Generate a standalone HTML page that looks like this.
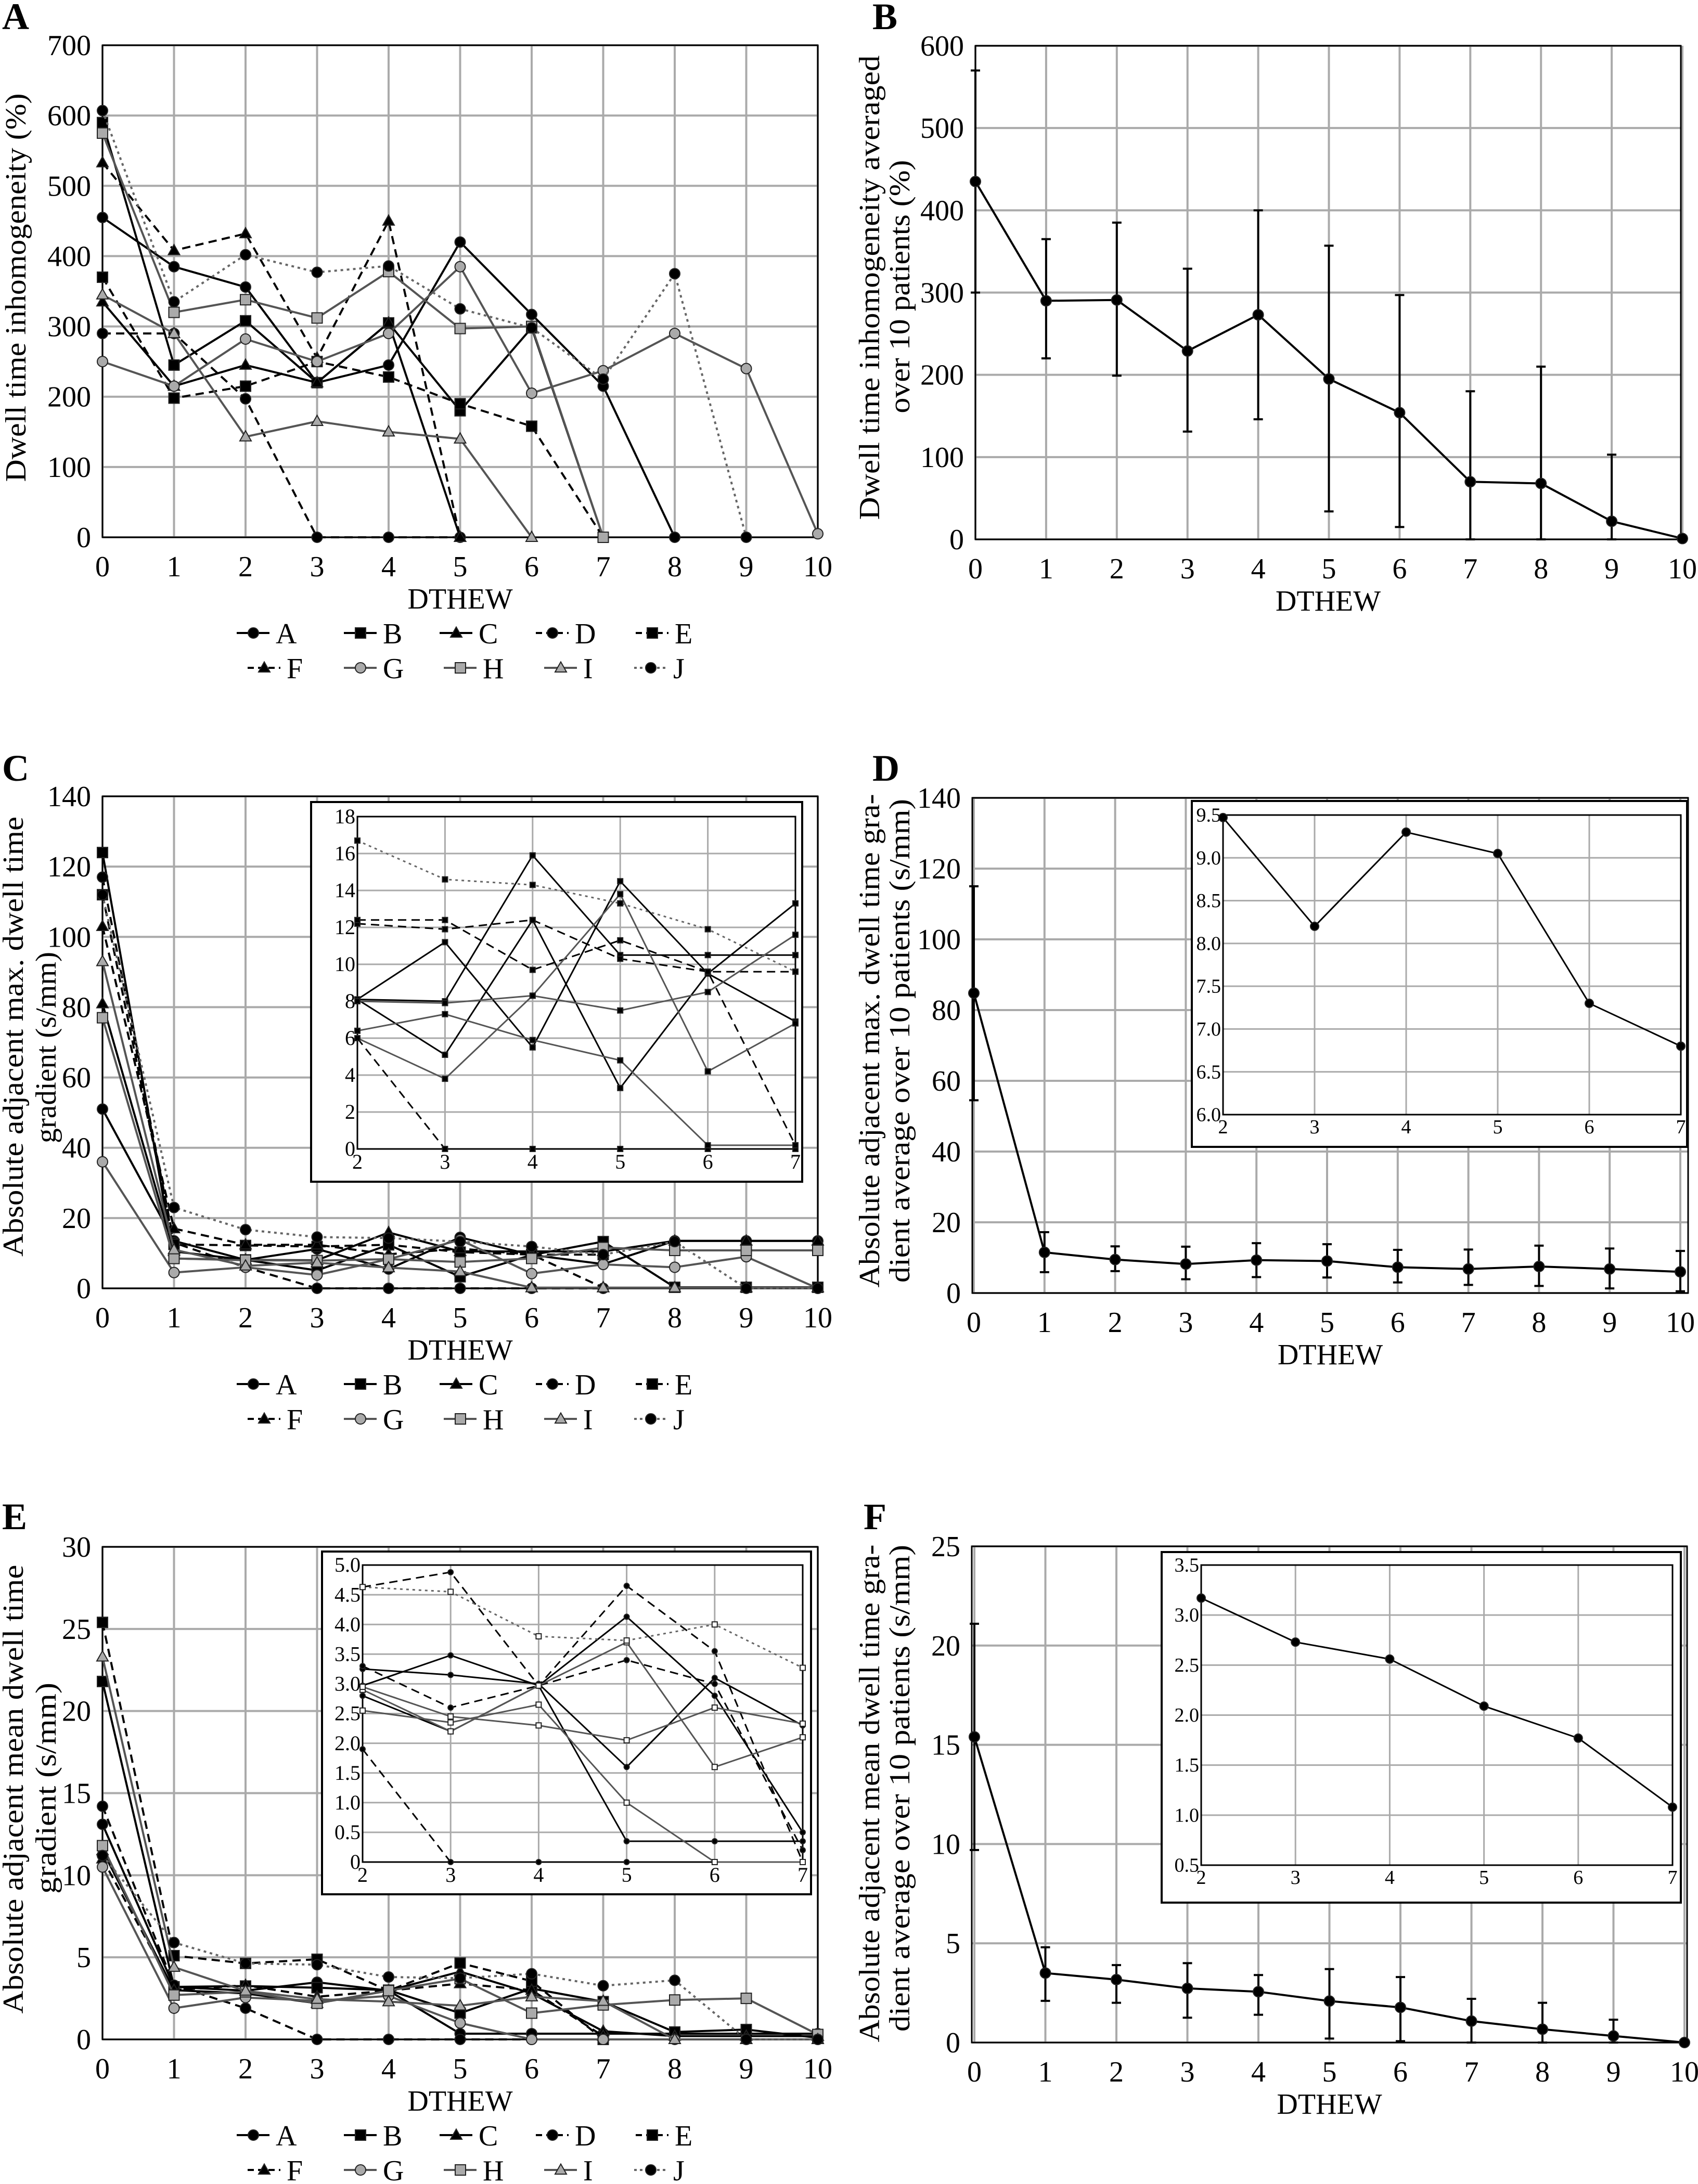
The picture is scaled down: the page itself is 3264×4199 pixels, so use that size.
<!DOCTYPE html>
<html><head><meta charset="utf-8"><title>Dwell time charts</title>
<style>html,body{margin:0;padding:0;background:#fff}svg{display:block;font-family:"Liberation Serif",serif}</style>
</head><body>
<svg id="chart" xmlns="http://www.w3.org/2000/svg" width="3264" height="4199" viewBox="0 0 3264 4199">
<rect x="0" y="0" width="3264" height="4199" fill="#fff"/>
</svg>
<script>
// ---------- data ----------
const cats=[0,1,2,3,4,5,6,7,8,9,10];
const seriesNames=["A","B","C","D","E","F","G","H","I","J"];
// Panel A: dwell time inhomogeneity (%)
const aA=[455,385,356,220,245,420,317,215,0];
const aB=[590,245,308,220,305,180,298,0];
const aC=[335,215,245,220,305,0];
const aD=[290,290,197,0,0,0];
const aE=[370,198,215,250,228,190,158,0];
const aF=[533,408,432,255,450,0];
const aG=[250,215,282,250,290,385,205,237,290,240,5];
const aH=[575,320,338,312,378,297,300,0];
const aI=[345,290,143,165,150,140,0];
const aJ=[607,335,402,377,386,325,298,225,375,0];
const aTicks=[0,100,200,300,400,500,600,700];
// Panel B: mean with error bars
const bMean=[435,290,291,229,273,195,154,70,68,22,1];
const bHi=[570,365,385,329,400,357,297,180,210,103,null];
const bLo=[300,220,199,131,146,34,15,0,0,0,null];
const bTicks=[0,100,200,300,400,500,600];
// Panel C: max gradient
const cA=[51,13.5,8.1,11.2,5.5,14.5,9.5,6.9,13.5,13.5,13.5];
const cB=[124,8.5,8.1,5.1,12.4,3.3,9.5,13.3,0.3,0.3,0.3];
const cC=[81,10.5,8.1,8.0,15.9,10.5,10.5,10.5,13.5,13.5,13.5];
const cD=[117,13,6.0,0,0,0,0,0];
const cE=[112,12.5,12.2,11.9,12.4,10.3,9.6,9.6];
const cF=[103,17,12.4,12.4,9.7,11.3,9.6,0.2];
const cG=[36,4.5,6.0,3.8,8.3,13.8,4.2,6.8,6,9,0];
const cH=[77,8.5,8.0,7.9,8.3,7.5,8.5,11.6,10.8,10.8,10.8];
const cI=[93,11,6.4,7.3,5.9,4.8,0.2,0.2,0.2,0.2,0.2];
const cJ=[112,23,16.7,14.6,14.3,13.3,11.9,9.6,13.3,0,0];
const cTicks=[0,20,40,60,80,100,120,140];
const cInsetTicks=[0,2,4,6,8,10,12,14,16,18];
// Panel D
const dMean=[84.8,11.5,9.47,8.2,9.3,9.05,7.3,6.8,7.5,6.8,6.0];
const dHi=[115,17.2,13.2,13.1,14.1,13.8,12.2,12.3,13.4,12.6,11.9];
const dLo=[54.5,5.9,6.2,3.9,4.5,4.4,3.0,2.3,2.0,1.3,0.5];
const dInsetTicks=[6.0,6.5,7.0,7.5,8.0,8.5,9.0,9.5];
// Panel E: mean gradient
const eA=[13.1,3.2,2.97,3.48,2.97,0.35,0.35,0.35,0.35,0.35,0.35];
const eB=[21.8,3.2,3.25,3.15,3.0,1.6,3.1,2.3,0.45,0.6,0.1];
const eC=[11.5,3.0,2.8,2.2,2.97,4.13,2.8,0.5,0.2,0.2,0.2];
const eD=[14.2,3.3,1.9,0,0,0,0];
const eE=[25.4,5.1,4.63,4.88,2.97,4.65,3.55,0];
const eF=[11.0,3.0,3.3,2.6,2.97,3.4,3.0,0.2];
const eG=[10.5,1.9,2.55,2.35,2.65,1.0,0,0,0,0,0];
const eH=[11.8,2.7,2.9,2.2,2.97,3.7,1.6,2.1,2.4,2.5,0.3];
const eI=[23.3,4.4,2.95,2.45,2.3,2.05,2.6,2.33,0,0,0];
const eJ=[11.2,5.9,4.63,4.55,3.8,3.73,4.0,3.27,3.6,0,0];
const eTicks=[0,5,10,15,20,25,30];
const eInsetTicks=[0,0.5,1.0,1.5,2.0,2.5,3.0,3.5,4.0,4.5,5.0];
// Panel F
const fMean=[15.4,3.5,3.17,2.73,2.56,2.09,1.77,1.08,0.67,0.33,0];
const fHi=[21.1,4.8,3.9,4.0,3.4,3.7,3.3,2.2,2.0,1.15,null];
const fLo=[9.7,2.1,2.0,1.25,1.4,0.2,0.07,0,0,0,null];
const fTicks=[0,5,10,15,20,25];
const fInsetTicks=[0.5,1.0,1.5,2.0,2.5,3.0,3.5];
const insetCats=[2,3,4,5,6,7];

// ---------- helpers ----------
const svg=document.getElementById('chart');
const NS='http://www.w3.org/2000/svg';
function mk(tag,attrs,name,parent){
  const el=document.createElementNS(NS,tag);
  for(const k in attrs) el.setAttribute(k,attrs[k]);
  
  
  (parent||svg).appendChild(el);
  return el;
}
function txt(x,y,s,size,anchor,name,extra){
  const t=mk('text',Object.assign({x:x,y:y,'font-size':size,'text-anchor':anchor||'middle',fill:'#000'},extra||{}),name);
  t.textContent=s;return t;
}
function scale(d0,d1,p0,p1){return v=>p0+(v-d0)/(d1-d0)*(p1-p0);}
const styles={
 A:{c:'#000',d:'',m:'circle',f:'#000'}, B:{c:'#000',d:'',m:'square',f:'#000'}, C:{c:'#000',d:'',m:'tri',f:'#000'},
 D:{c:'#000',d:'16,10',m:'circle',f:'#000'}, E:{c:'#000',d:'16,10',m:'square',f:'#000'}, F:{c:'#000',d:'16,10',m:'tri',f:'#000'},
 G:{c:'#555',d:'',m:'circle',f:'#aaa'}, H:{c:'#555',d:'',m:'square',f:'#aaa'}, I:{c:'#555',d:'',m:'tri',f:'#aaa'},
 J:{c:'#666',d:'5,7',m:'circle',f:'#000'}
};
function marker(kind,x,y,r,fill,name){
  if(kind==='circle') return mk('circle',{cx:x,cy:y,r:r,fill:fill,stroke:'#222','stroke-width':2},name);
  if(kind==='square') return mk('rect',{x:x-r,y:y-r,width:2*r,height:2*r,fill:fill,stroke:'#222','stroke-width':2},name);
  return mk('polygon',{points:`${x},${y-r*1.15} ${x-r*1.1},${y+r*0.8} ${x+r*1.1},${y+r*0.8}`,fill:fill,stroke:'#222','stroke-width':2},name);
}
function series(sx,sy,xs,vals,st,w,r,name){
  const pts=[];
  xs.forEach((x,i)=>{ if(vals[i]!=null && vals[i]!==undefined) pts.push([sx(x),sy(vals[i])]); });
  mk('polyline',{points:pts.map(p=>p.join(',')).join(' '),fill:'none',stroke:st.c,'stroke-width':w,'stroke-dasharray':st.d,'stroke-linejoin':'round'},name+'-line');
  pts.forEach(p=>marker(st.m,p[0],p[1],r,st.f,name+'-point'));
}
function frame(p,key){
  const sx=scale(0,10,p.xL,p.xR), sy=scale(p.ticks[0],p.ticks[p.ticks.length-1],p.B,p.T);
  cats.forEach(c=>{ mk('line',{x1:sx(c),x2:sx(c),y1:p.T,y2:p.B,stroke:'#aaa','stroke-width':4},key+'-x-gridline'); });
  p.ticks.forEach(t=>{ mk('line',{x1:p.L,x2:p.R,y1:sy(t),y2:sy(t),stroke:'#aaa','stroke-width':4},key+'-y-gridline');
    txt(p.L-22,sy(t)+19,String(t),56,'end',key+'-y-tick-label'); });
  mk('rect',{x:p.L,y:p.T,width:p.R-p.L,height:p.B-p.T,fill:'none',stroke:'#000','stroke-width':3},key+'-plot-frame');
  cats.forEach(c=>txt(sx(c),p.B+75,String(c),56,'middle',key+'-x-tick-label'));
  txt((p.L+p.R)/2,p.B+137,'DTHEW',56,'middle',key+'-x-axis-title');
  return {sx,sy};
}
function ytitle(x,cy,s,len,name){
  const t=mk('text',{x:0,y:0,'font-size':56,'text-anchor':'middle',textLength:len,lengthAdjust:'spacingAndGlyphs',transform:`translate(${x},${cy}) rotate(-90)`,fill:'#000'},name);
  t.textContent=s;
}
function legend(bottom,key){
  const row1=[455,661,845,1030,1222], row2=[476,661,853,1046,1219];
  seriesNames.forEach((n,i)=>{
    const x=i<5?row1[i]:row2[i-5], y=bottom+(i<5?184:251), st=styles[n];
    const g=mk('g',{},key+'-legend-entry-'+n.toLowerCase());
    mk('line',{x1:x,x2:x+63,y1:y,y2:y,stroke:st.c,'stroke-width':4,'stroke-dasharray':st.d?(st.d==='5,7'?'5,6':'12,8'):''},key+'-legend-swatch',g);
    marker(st.m,x+32,y,10,st.f,key+'-legend-marker');
    txt(x+75,y+20,n,56,'start',key+'-legend-label');
  });
}
function errorbars(sx,sy,hi,lo,key){
  cats.forEach((c,i)=>{ if(hi[i]==null) return; const x=sx(c);
    mk('line',{x1:x,x2:x,y1:sy(hi[i]),y2:sy(lo[i]),stroke:'#000','stroke-width':4},key+'-error-bar');
    mk('line',{x1:x-9,x2:x+9,y1:sy(hi[i]),y2:sy(hi[i]),stroke:'#000','stroke-width':4},key+'-error-cap');
    mk('line',{x1:x-9,x2:x+9,y1:sy(lo[i]),y2:sy(lo[i]),stroke:'#000','stroke-width':4},key+'-error-cap'); });
}
function inset(o,ticks,fmt,fs,key){
  mk('rect',{x:o.ox,y:o.oy,width:o.ow,height:o.oh,fill:'#fff',stroke:'#000','stroke-width':4},key+'-inset-frame');
  const sx=scale(2,7,o.L,o.R), sy=scale(ticks[0],ticks[ticks.length-1],o.B,o.T);
  insetCats.forEach(c=>mk('line',{x1:sx(c),x2:sx(c),y1:o.T,y2:o.B,stroke:'#aaa','stroke-width':3},key+'-inset-x-gridline'));
  ticks.forEach(t=>{ mk('line',{x1:o.L,x2:o.R,y1:sy(t),y2:sy(t),stroke:'#aaa','stroke-width':3},key+'-inset-y-gridline');
    txt(o.L-4,sy(t)+fs*0.33,fmt(t),fs,'end',key+'-inset-y-tick-label'); });
  mk('rect',{x:o.L,y:o.T,width:o.R-o.L,height:o.B-o.T,fill:'none',stroke:'#000','stroke-width':3},key+'-inset-plot-frame');
  insetCats.forEach(c=>txt(sx(c),o.B+fs*0.95,String(c),fs,'middle',key+'-inset-x-tick-label'));
  return {sx,sy};
}
function panelLetter(x,y,s){ txt(x,y,s,72,'start','panel-label-'+s.toLowerCase(),{'font-weight':'bold'}); }

// ---------- Panel A ----------
(function(){
  const p={L:197,R:1572,T:87,B:1033,xL:197,xR:1572,ticks:aTicks};
  const {sx,sy}=frame(p,'panel-a');
  [aA,aB,aC,aD,aE,aF,aG,aH,aI,aJ].forEach((v,i)=>series(sx,sy,cats,v,styles[seriesNames[i]],4,10,'panel-a-series-'+seriesNames[i].toLowerCase()));
  legend(p.B,'panel-a');
  ytitle(49,553,'Dwell time inhomogeneity (%)',747,'panel-a-y-axis-title');
  panelLetter(4,56,'A');
})();
// ---------- Panel B ----------
(function(){
  const p={L:1875,R:3231,T:88,B:1037,xL:1875,xR:3234,ticks:bTicks};
  const {sx,sy}=frame(p,'panel-b');
  errorbars(sx,sy,bHi,bLo,'panel-b');
  series(sx,sy,cats,bMean,{c:'#000',d:'',m:'circle',f:'#000'},4,10,'panel-b-mean');
  ytitle(1690,553,'Dwell time inhomogeneity averaged',893,'panel-b-y-axis-title-line1');
  ytitle(1748,551,'over 10 patients (%)',487,'panel-b-y-axis-title-line2');
  panelLetter(1677,56,'B');
})();
// ---------- Panel C ----------
(function(){
  const p={L:197,R:1572,T:1531,B:2477,xL:197,xR:1572,ticks:cTicks};
  const {sx,sy}=frame(p,'panel-c');
  const all=[cA,cB,cC,cD,cE,cF,cG,cH,cI,cJ];
  all.forEach((v,i)=>series(sx,sy,cats,v,styles[seriesNames[i]],4,10,'panel-c-series-'+seriesNames[i].toLowerCase()));
  const s=inset({ox:598,oy:1542,ow:944,oh:730,L:687,R:1529,T:1570,B:2209},cInsetTicks,t=>String(t),40,'panel-c');
  all.forEach((v,i)=>{const st=Object.assign({},styles[seriesNames[i]],{m:'square',f:'#000'}); series(s.sx,s.sy,insetCats,insetCats.map(c=>v[c]),st,3,5,'panel-c-inset-series-'+seriesNames[i].toLowerCase());});
  legend(p.B,'panel-c');
  ytitle(44,1993,'Absolute adjacent max. dwell time',846,'panel-c-y-axis-title-line1');
  ytitle(107,2014,'gradient (s/mm)',368,'panel-c-y-axis-title-line2');
  panelLetter(4,1501,'C');
})();
// ---------- Panel D ----------
(function(){
  const p={L:1869,R:3245,T:1534,B:2486,xL:1872,xR:3230,ticks:cTicks};
  const {sx,sy}=frame(p,'panel-d');
  errorbars(sx,sy,dHi,dLo,'panel-d');
  series(sx,sy,cats,dMean,{c:'#000',d:'',m:'circle',f:'#000'},4,10,'panel-d-mean');
  const s=inset({ox:2291,oy:1540,ow:952,oh:665,L:2351,R:3231,T:1567,B:2143},dInsetTicks,t=>t.toFixed(1),38,'panel-d');
  series(s.sx,s.sy,insetCats,insetCats.map(c=>dMean[c]),{c:'#000',d:'',m:'circle',f:'#000'},3,8,'panel-d-inset-mean');
  ytitle(1690,2001,'Absolute adjacent max. dwell time gra-',949,'panel-d-y-axis-title-line1');
  ytitle(1748,2001,'dient average over 10 patients (s/mm)',930,'panel-d-y-axis-title-line2');
  panelLetter(1677,1501,'D');
})();
// ---------- Panel E ----------
(function(){
  const p={L:197,R:1572,T:2974,B:3921,xL:197,xR:1572,ticks:eTicks};
  const {sx,sy}=frame(p,'panel-e');
  const all=[eA,eB,eC,eD,eE,eF,eG,eH,eI,eJ];
  all.forEach((v,i)=>series(sx,sy,cats,v,styles[seriesNames[i]],4,10,'panel-e-series-'+seriesNames[i].toLowerCase()));
  const s=inset({ox:619,oy:2983,ow:940,oh:659,L:697,R:1543,T:3009,B:3580},eInsetTicks,t=>t===0?'0':t.toFixed(1),40,'panel-e');
  all.forEach((v,i)=>{const st=Object.assign({},styles[seriesNames[i]],{m:i>5?'square':'circle',f:i>5?'#fff':'#000'}); series(s.sx,s.sy,insetCats,insetCats.map(c=>v[c]),st,3,5,'panel-e-inset-series-'+seriesNames[i].toLowerCase());});
  legend(p.B,'panel-e');
  ytitle(44,3440,'Absolute adjacent mean dwell time',863,'panel-e-y-axis-title-line1');
  ytitle(107,3438,'gradient (s/mm)',406,'panel-e-y-axis-title-line2');
  panelLetter(4,2940,'E');
})();
// ---------- Panel F ----------
(function(){
  const p={L:1868,R:3243,T:2973,B:3927,xL:1873,xR:3238,ticks:fTicks};
  const {sx,sy}=frame(p,'panel-f');
  errorbars(sx,sy,fHi,fLo,'panel-f');
  series(sx,sy,cats,fMean,{c:'#000',d:'',m:'circle',f:'#000'},4,10,'panel-f-mean');
  const s=inset({ox:2233,oy:2984,ow:998,oh:674,L:2309,R:3215,T:3009,B:3586},fInsetTicks,t=>t.toFixed(1),38,'panel-f');
  series(s.sx,s.sy,insetCats,insetCats.map(c=>fMean[c]),{c:'#000',d:'',m:'circle',f:'#000'},3,8,'panel-f-inset-mean');
  ytitle(1690,3448,'Absolute adjacent mean dwell time gra-',957,'panel-f-y-axis-title-line1');
  ytitle(1748,3438,'dient average over 10 patients (s/mm)',936,'panel-f-y-axis-title-line2');
  panelLetter(1660,2940,'F');
})();
</script>
</body></html>
